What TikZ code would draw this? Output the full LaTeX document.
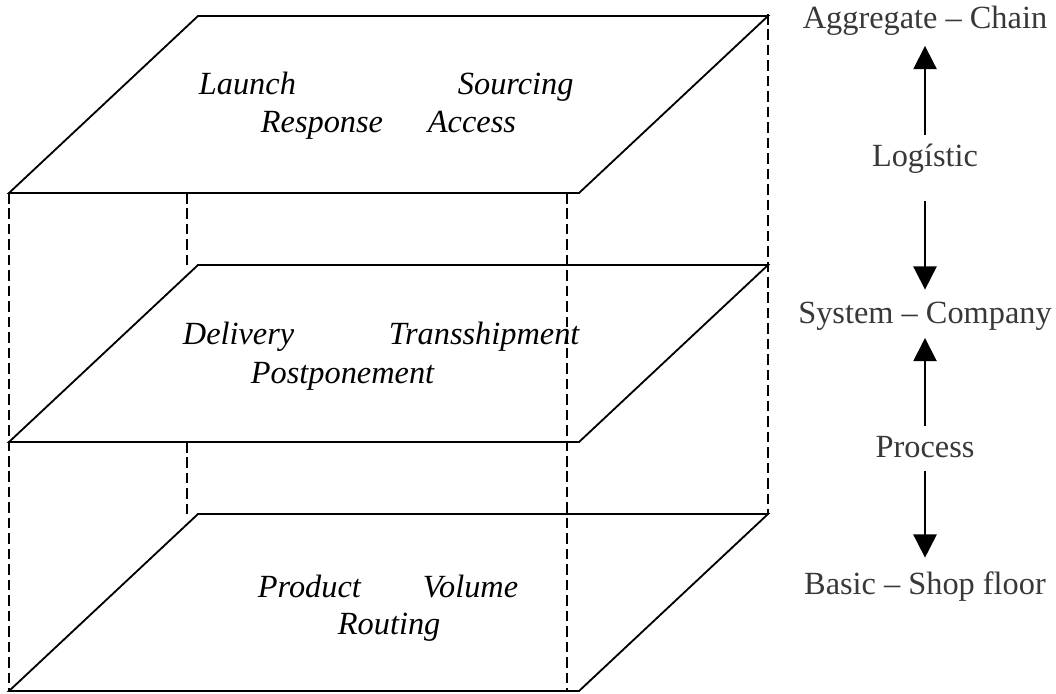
\documentclass[tikz,border=0pt]{standalone}
\usepackage{fontspec}
\setmainfont{Liberation Serif}
\usetikzlibrary{arrows.meta}

\tikzset{every picture/.style={line width=1.3pt}}
\tikzset{hidden/.style={line width=1.2pt, dash pattern=on 7.5pt off 3.5pt}}
\tikzset{topic/.style={font=\fontsize{23}{27}\selectfont\itshape, anchor=base west, inner sep=0pt}}
\tikzset{level/.style={font=\fontsize{23}{27}\selectfont, text=black!78, anchor=base, inner sep=0pt, text height=16pt, text depth=5.7pt}}
\tikzset{updown/.style={-{Triangle[width=16.5pt,length=16.5pt]}}}
% one horizontal layer, given the y of its front edge
\newcommand{\layer}[1]{(9,#1) -- ++(189,-177) -- ++(570,0) -- ++(-189,177) -- cycle}

\begin{document}
\begin{tikzpicture}[x=0.025cm, y=-0.025cm]
    \useasboundingbox (0,0) rectangle (1056,693);

    % the three layers
    \draw \layer{193};
    \draw \layer{442};
    \draw \layer{691};

    % vertical edges of the box
    \draw[hidden] (9,193) -- (9,691);
    \draw[hidden] (187,193) -- (187,270);
    \draw[hidden] (187,442) -- (187,518);
    \draw[hidden] (567,193) -- (567,691);
    \draw[hidden] (768,14) -- (768,514);

    % topics on each layer
    \node[topic] (launch) at (198,94) {Launch};
    \node[topic] (sourcing) at (457,94) {Sourcing};
    \node[topic] (response) at (260,132) {Response};
    \node[topic] (access) at (427,132) {Access};

    \node[topic] (delivery) at (182,344) {Delivery};
    \node[topic] (transship) at (388,344) {Transshipment};
    \node[topic] (postpone) at (250,383) {Postponement};

    \node[topic] (product) at (257,597) {Product};
    \node[topic] (volume) at (422,597) {Volume};
    \node[topic] (routing) at (337,634) {Routing};

    % levels on the right
    \node[level] (agg) at (925,28) {Aggregate – Chain};
    \node[level] (logistic) at (925,166) {Logístic};
    \node[level] (system) at (925,323) {System – Company};
    \node[level] (process) at (925,457) {Process};
    \node[level] (basic) at (925,594) {Basic – Shop floor};

    \draw[updown, shorten <=5.3pt, shorten >=6.4pt] (logistic) -- (agg);
    \draw[updown, shorten <=18.5pt, shorten >=7.1pt] (logistic) -- (system);
    \draw[updown, shorten <=5.7pt, shorten >=4.3pt] (process) -- (system);
    \draw[updown, shorten <=3.6pt, shorten >=9.2pt] (process) -- (basic);
\end{tikzpicture}
\end{document}
